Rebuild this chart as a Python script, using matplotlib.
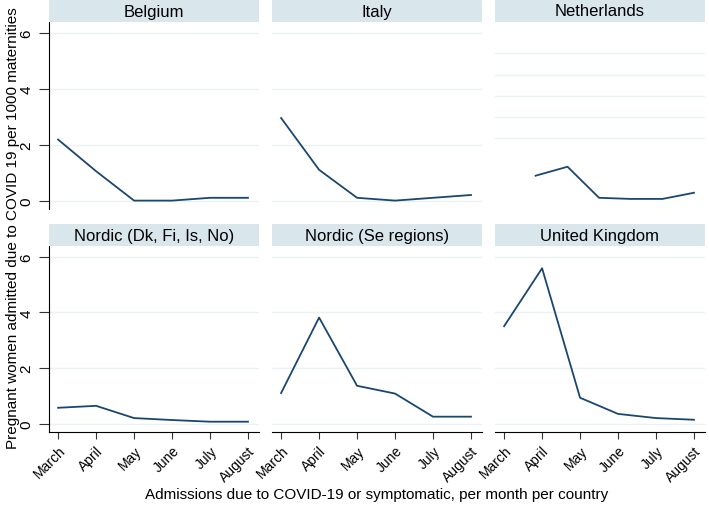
import numpy as np
import matplotlib.pyplot as plt

plt.rcParams['font.family'] = ['Liberation Sans', 'DejaVu Sans']

months = ['March', 'April', 'May', 'June', 'July', 'August']
countries = ['Belgium', 'Italy', 'Netherlands',
             'Nordic (Dk, Fi, Is, No)', 'Nordic (Se regions)', 'United Kingdom']

belgium = [2.18, 1.05, 0.0, 0.0, 0.1, 0.1]
italy = [2.95, 1.1, 0.1, 0.0, 0.1, 0.2]
netherlands = [0.89, 1.21, 0.1, 0.06, 0.06, 0.28]
nordic_dk = [0.57, 0.64, 0.2, 0.13, 0.07, 0.07]
nordic_se = [1.1, 3.81, 1.36, 1.08, 0.25, 0.25]
uk = [3.5, 5.58, 0.93, 0.35, 0.2, 0.14]
# Netherlands series is drawn on a compressed month axis in the original
netherlands_x = [0.83, 1.67, 2.5, 3.33, 4.17, 5.0]
netherlands_grid = [2.25, 3.0, 3.75, 4.5, 5.29]

series = [belgium, italy, netherlands, nordic_dk, nordic_se, uk]

W, H = 709, 506
fig = plt.figure(figsize=(W / 100, H / 100), dpi=100)

navy = '#1a476f'
strip = '#d9e6ec'
grid = '#eaf2f3'

col_x = [49, 272, 495]
pw = 210
rows = [(23, 210), (247, 433)]  # top, bottom of plot area in px
strip_h = 22

for i, (name, vals) in enumerate(zip(countries, series)):
    r, c = divmod(i, 3)
    top, bot = rows[r]
    ax = fig.add_axes([col_x[c] / W, 1 - bot / H, pw / W, (bot - top) / H])
    x = netherlands_x if name == 'Netherlands' else np.arange(len(months))
    ax.plot(x, vals, color=navy, lw=1.3)
    ax.set_xlim(-0.24, 5.29)
    ax.set_ylim(-0.3, 6.38)
    if name == 'Netherlands':
        for g in netherlands_grid:
            ax.axhline(g, color=grid, lw=1, zorder=0)
    else:
        for g in [0, 2, 4, 6]:
            ax.axhline(g, color=grid, lw=1, zorder=0)
    for s in ['top', 'right']:
        ax.spines[s].set_visible(False)
    ax.spines['left'].set_visible(c == 0)
    ax.spines['bottom'].set_visible(r == 1)
    ax.set_yticks([0, 2, 4, 6])
    if c == 0:
        ax.set_yticklabels(['0', '2', '4', '6'], rotation=90, va='center', fontsize=11)
        ax.tick_params(axis='y', length=7, width=0.8, color='#333333', pad=4)
    else:
        ax.tick_params(axis='y', left=False, labelleft=False)
    ax.set_xticks(np.arange(len(months)))
    if r == 1:
        ax.set_xticklabels(months, rotation=45, ha='right', rotation_mode='anchor', fontsize=10)
        ax.tick_params(axis='x', length=5, width=0.8, color='#333333', pad=3)
    else:
        ax.tick_params(axis='x', bottom=False, labelbottom=False)
    # title strip
    sax = fig.add_axes([col_x[c] / W, 1 - top / H, pw / W, strip_h / H])
    sax.set_facecolor(strip)
    sax.set_xticks([])
    sax.set_yticks([])
    for s in sax.spines.values():
        s.set_visible(False)
    sax.text(0.5, 0.5, name, ha='center', va='center', fontsize=12, transform=sax.transAxes)

fig.text(13 / W, 1 - 228 / H, 'Pregnant women admitted due to COVID 19 per 1000 maternities',
         rotation=90, ha='center', va='center', fontsize=11)
fig.text(377 / W, 1 - 495 / H, 'Admissions due to COVID-19 or symptomatic, per month per country',
         ha='center', va='center', fontsize=11)

fig.savefig('out.png', dpi=100)
